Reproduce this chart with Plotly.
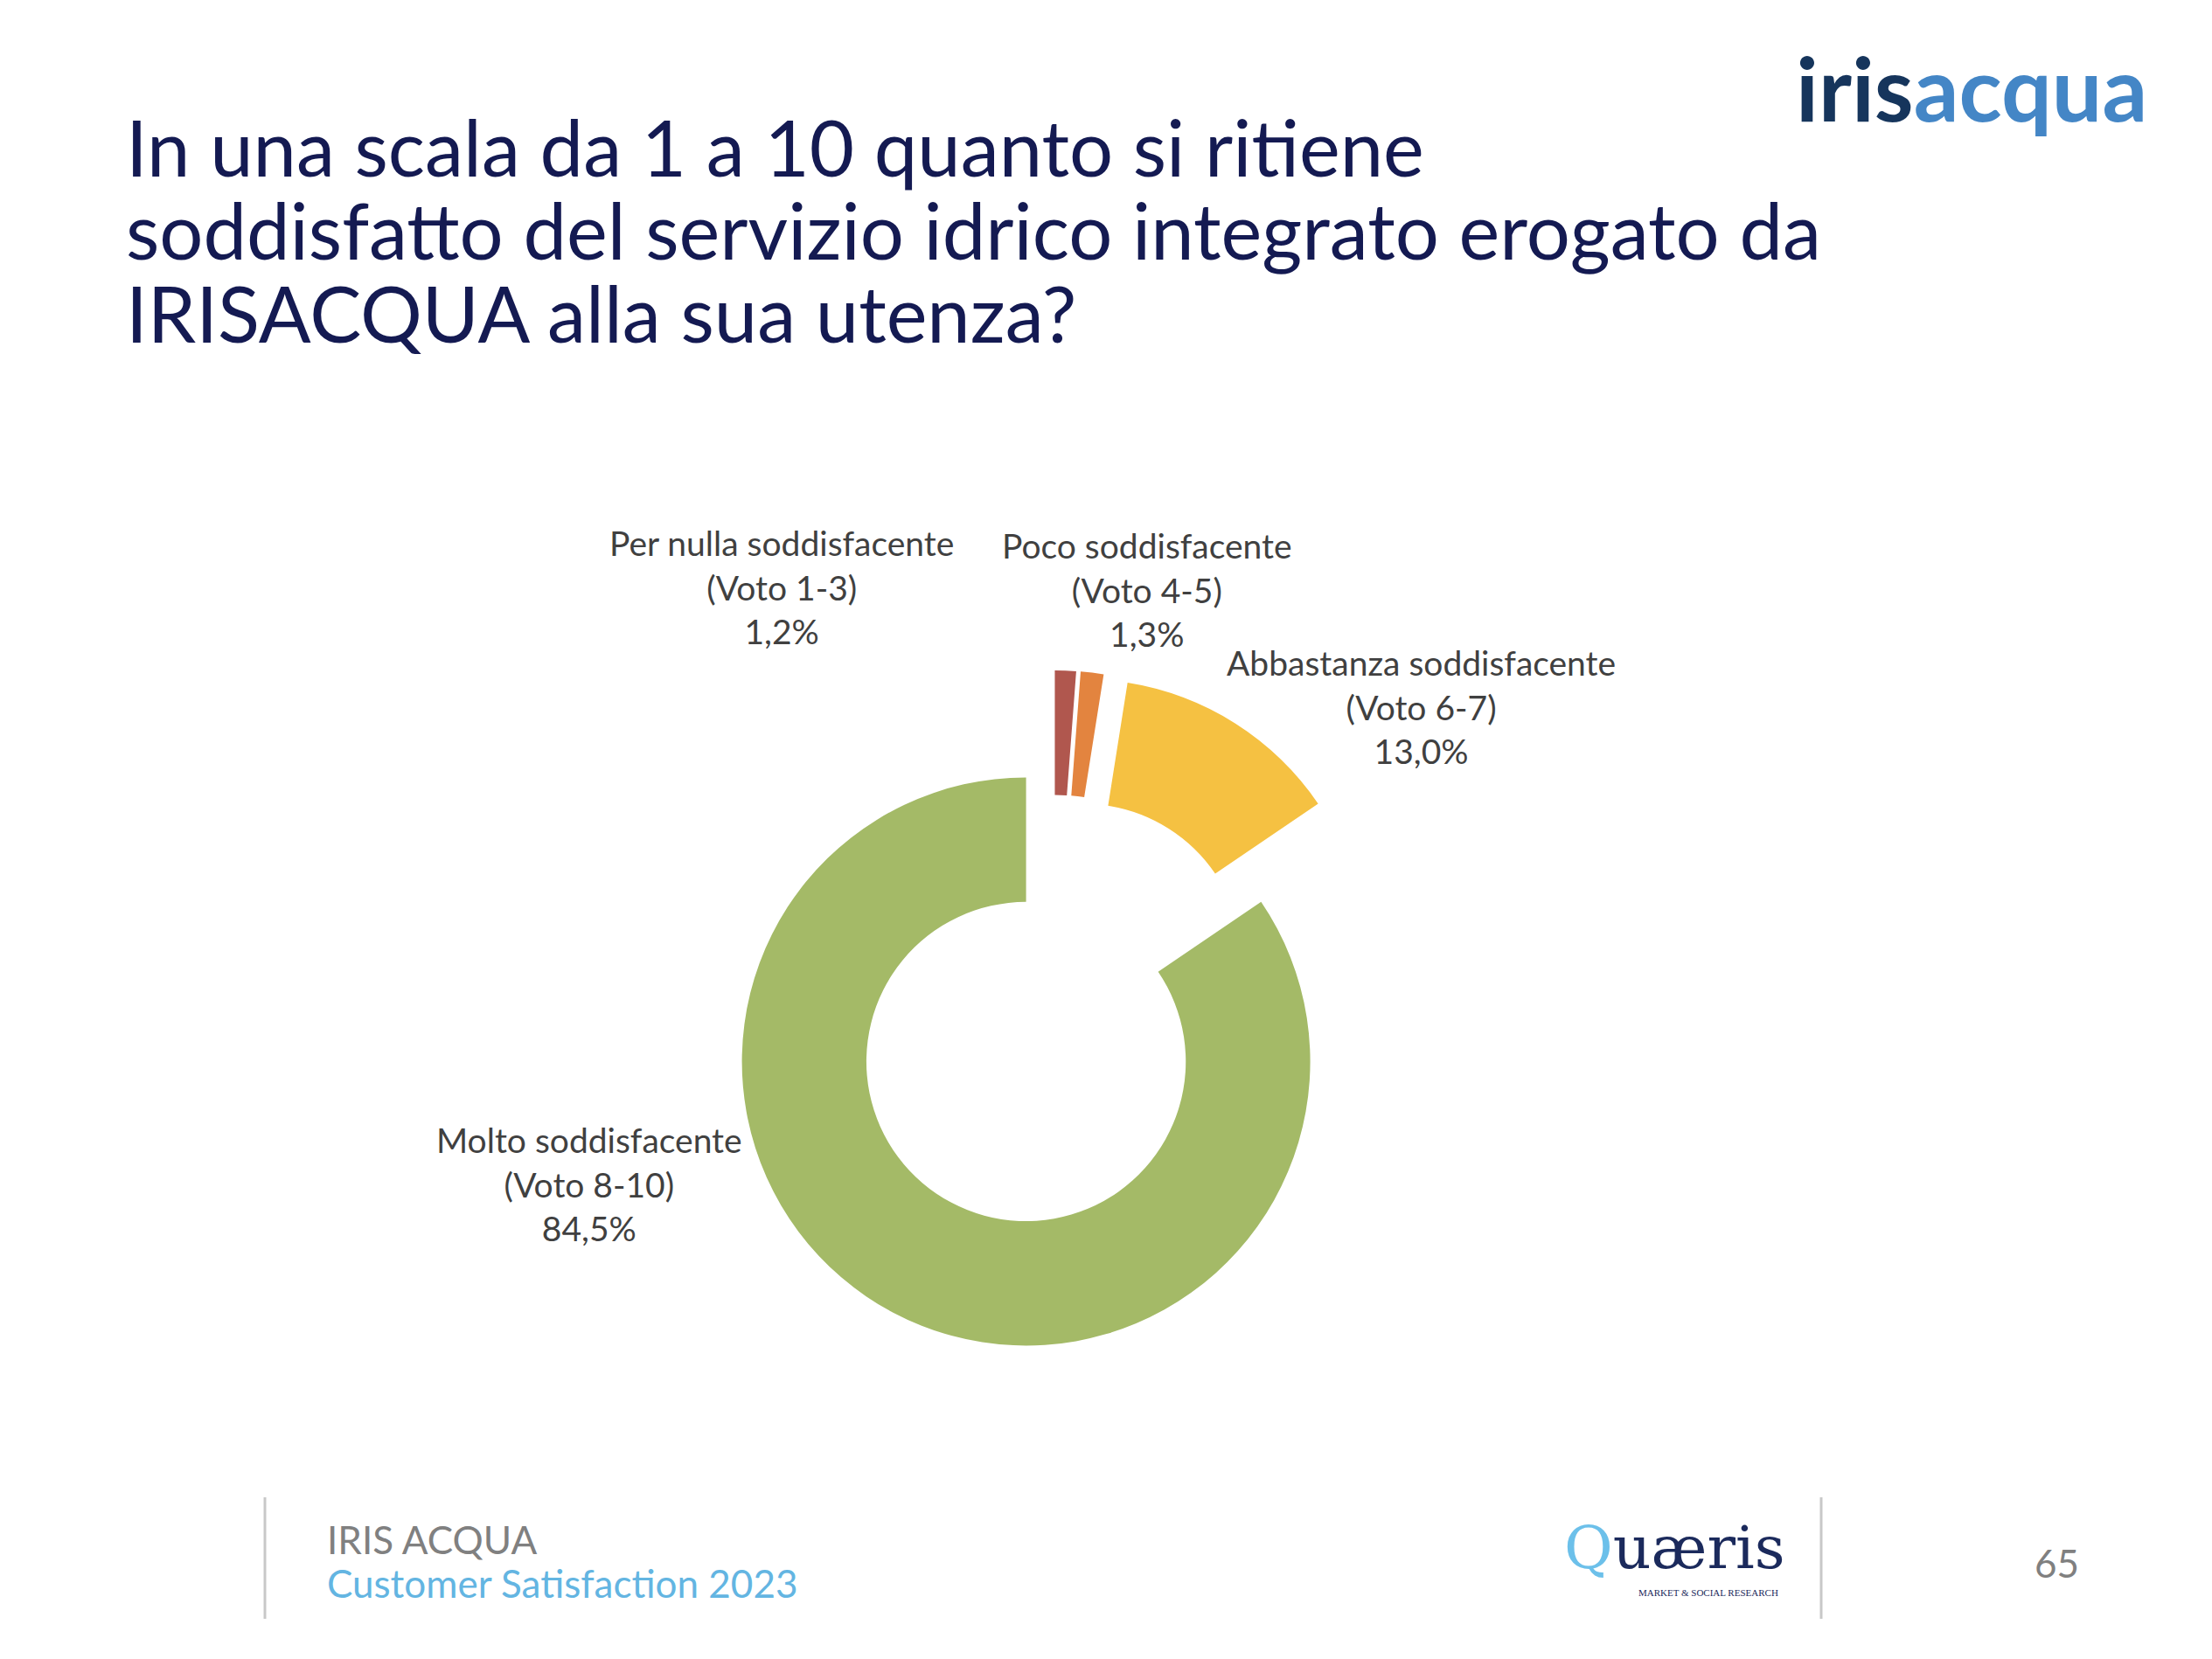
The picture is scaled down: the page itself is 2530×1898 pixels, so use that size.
import plotly.graph_objects as go

## Data
categorie = ["Per nulla soddisfacente", "Poco soddisfacente",
             "Abbastanza soddisfacente", "Molto soddisfacente"]
voti = ["(Voto 1-3)", "(Voto 4-5)", "(Voto 6-7)", "(Voto 8-10)"]
percentuali = [1.2, 1.3, 13.0, 84.5]
colori = ["#B0574E", "#E3843F", "#F5C142", "#A4BA67"]

titolo = ["In una scala da 1 a 10 quanto si ritiene",
          "soddisfatto del servizio idrico integrato erogato da",
          "IRISACQUA alla sua utenza?"]

W, H = 2530, 1898


def px(x):
    return x / W


def py(y):
    return 1 - y / H


## Donut chart (all slices slightly exploded, as in the original)
fig = go.Figure(go.Pie(
    labels=categorie,
    values=percentuali,
    sort=False,
    direction="clockwise",
    rotation=0,
    hole=0.562,
    pull=0.2,
    textinfo="none",
    marker=dict(colors=colori, line=dict(width=0)),
    domain=dict(x=[px(814), px(1594)], y=[py(1547), py(767)]),
    showlegend=False,
))

## Slice labels placed around the donut
label_pos = [(894, 671), (1312, 674), (1626, 808), (674, 1354)]
annotations = []
for cat, voto, val, (lx, ly) in zip(categorie, voti, percentuali, label_pos):
    testo = f"{cat}<br>{voto}<br>{val:.1f}".replace(".", ",") + "%"
    annotations.append(dict(
        x=px(lx), y=py(ly), xref="paper", yref="paper",
        text=testo, showarrow=False, xanchor="center", yanchor="middle",
        align="center", font=dict(family="Lato", size=39, color="#404040"),
    ))

## Title lines
for i, riga in enumerate(titolo):
    annotations.append(dict(
        x=px(142), y=py(168 + i * 95), xref="paper", yref="paper",
        text=riga, showarrow=False, xanchor="left", yanchor="middle",
        font=dict(family="Lato", size=88.5, color="#141A52"),
    ))

## irisacqua logo
annotations.append(dict(
    x=px(2458), y=py(99), xref="paper", yref="paper",
    text="<b><span style='color:#16355C'>iris</span><span style='color:#4486C6'>acqua</span></b>",
    showarrow=False, xanchor="right", yanchor="middle",
    font=dict(family="Lato", size=102),
))

## Footer
annotations += [
    dict(x=px(372), y=py(1761), xref="paper", yref="paper", text="IRIS ACQUA",
         showarrow=False, xanchor="left", yanchor="middle",
         font=dict(family="Lato", size=44, color="#808080")),
    dict(x=px(372), y=py(1811), xref="paper", yref="paper",
         text="Customer Satisfaction 2023",
         showarrow=False, xanchor="left", yanchor="middle",
         font=dict(family="Lato", size=44, color="#63B5E2")),
    dict(x=px(1915), y=py(1770), xref="paper", yref="paper",
         text="<span style='color:#6CC0EA'>Q</span>uæris",
         showarrow=False, xanchor="center", yanchor="middle",
         font=dict(family="DejaVu Serif", size=68, color="#1B2A5C")),
    dict(x=px(2036), y=py(1822), xref="paper", yref="paper",
         text="MARKET &amp; SOCIAL RESEARCH",
         showarrow=False, xanchor="right", yanchor="middle",
         font=dict(family="Liberation Serif", size=11, color="#1B2A5C")),
    dict(x=px(2352), y=py(1788), xref="paper", yref="paper", text="65",
         showarrow=False, xanchor="center", yanchor="middle",
         font=dict(family="Lato", size=44, color="#808080")),
]

shapes = [
    dict(type="line", xref="paper", yref="paper", x0=px(303), x1=px(303),
         y0=py(1713), y1=py(1852), line=dict(color="#C8C8C8", width=3)),
    dict(type="line", xref="paper", yref="paper", x0=px(2083), x1=px(2083),
         y0=py(1713), y1=py(1852), line=dict(color="#C8C8C8", width=3)),
]

fig.update_layout(
    width=W, height=H,
    margin=dict(l=0, r=0, t=0, b=0),
    paper_bgcolor="white",
    plot_bgcolor="white",
    annotations=annotations,
    shapes=shapes,
)

# remove the default page margin so the figure sits at the window origin
fig.write_html("out.html", config={"displayModeBar": False},
               post_script="document.body.style.margin='0';")
